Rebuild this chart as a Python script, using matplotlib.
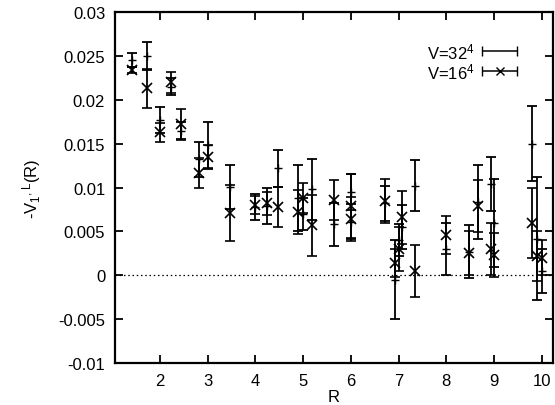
import matplotlib.pyplot as plt

plt.rcParams["font.family"] = ["Liberation Sans", "DejaVu Sans"]
plt.rcParams["mathtext.default"] = "regular"

# V=32^4 series
r_32 = [1.414, 1.732, 2.0, 2.236, 2.449, 2.828, 3.0, 3.464, 4.0, 4.243,
        4.472, 4.899, 5.0, 5.196, 5.657, 6.0, 6.0, 6.708, 6.928, 7.0,
        7.071, 7.348, 8.0, 8.485, 8.660, 8.944, 9.0, 9.798, 9.899, 10.0]
v_32 = [0.0245, 0.0250, 0.0177, 0.0215, 0.0165, 0.0132, 0.0148, 0.0101, 0.0078, 0.0079,
        0.0122, 0.0088, 0.0070, 0.0098, 0.0058, 0.0095, 0.0061, 0.0082, -0.0005, 0.0040,
        0.0055, 0.0102, 0.0030, 0.0027, 0.0084, 0.0104, 0.0060, 0.0150, 0.0042, 0.0005]
e_32 = [0.0008, 0.0016, 0.0015, 0.0010, 0.0010, 0.0020, 0.0027, 0.0025, 0.0015, 0.0021,
        0.0021, 0.0038, 0.0018, 0.0035, 0.0025, 0.0020, 0.0020, 0.0020, 0.0045, 0.0018,
        0.0025, 0.0029, 0.0030, 0.0030, 0.0042, 0.0031, 0.0050, 0.0043, 0.0070, 0.0025]

# V=16^4 series
r_16 = [1.414, 1.732, 2.0, 2.236, 2.449, 2.828, 3.0, 3.464, 4.0, 4.243,
        4.472, 4.899, 5.0, 5.196, 5.657, 6.0, 6.0, 6.708, 6.928, 7.0,
        7.071, 7.348, 8.0, 8.485, 8.660, 8.944, 9.0, 9.798, 9.899, 10.0]
v_16 = [0.0234, 0.0213, 0.0163, 0.0220, 0.0172, 0.0117, 0.0135, 0.0071, 0.0080, 0.0082,
        0.0078, 0.0072, 0.0088, 0.0057, 0.0086, 0.0079, 0.0064, 0.0085, 0.0014, 0.0030,
        0.0066, 0.0005, 0.0046, 0.0025, 0.0079, 0.0030, 0.0023, 0.0060, 0.0022, 0.0020]
e_16 = [0.0003, 0.0022, 0.0011, 0.0012, 0.0018, 0.0017, 0.0013, 0.0032, 0.0010, 0.0013,
        0.0023, 0.0025, 0.0017, 0.0035, 0.0023, 0.0036, 0.0025, 0.0025, 0.0016, 0.0025,
        0.0030, 0.0030, 0.0022, 0.0025, 0.0030, 0.0030, 0.0025, 0.0040, 0.0028, 0.0020]

x_ticks = [2, 3, 4, 5, 6, 7, 8, 9, 10]
y_ticks = [-0.01, -0.005, 0, 0.005, 0.01, 0.015, 0.02, 0.025, 0.03]
y_labels = ["-0.01", "-0.005", "0", "0.005", "0.01", "0.015", "0.02", "0.025", "0.03"]


def main():
    fig = plt.figure(figsize=(5.55, 4.06), dpi=100)
    ax = fig.add_axes([0.207, 0.103, 0.789, 0.865])

    ax.axhline(0, color="black", linestyle=(0, (1.2, 2.2)), linewidth=0.9)

    ax.errorbar(r_32, v_32, yerr=e_32, fmt="+", color="black",
                markersize=6, capsize=3.5, elinewidth=1.3, capthick=1.3)
    ax.errorbar(r_16, v_16, yerr=e_16, fmt="x", color="black",
                markersize=6.5, capsize=3.5, elinewidth=1.3, capthick=1.3,
                markeredgewidth=1.2)

    # gnuplot style key
    ax.text(0.822, 0.889, "V=32$^4$", transform=ax.transAxes,
            ha="right", va="center", fontsize=12)
    ax.text(0.822, 0.832, "V=16$^4$", transform=ax.transAxes,
            ha="right", va="center", fontsize=12)
    ax.errorbar([0.879], [0.889], xerr=[0.04], fmt="none", color="black",
                capsize=3.5, elinewidth=1.1, transform=ax.transAxes)
    ax.errorbar([0.879], [0.832], xerr=[0.04], fmt="x", color="black",
                markersize=5.5, capsize=3.5, elinewidth=1.1, transform=ax.transAxes)

    ax.set_xlim(1.06, 10.23)
    ax.set_ylim(-0.01, 0.03)
    ax.set_xticks(x_ticks)
    ax.set_yticks(y_ticks)
    ax.set_yticklabels(y_labels)
    ax.tick_params(direction="in", length=6, width=1.3, top=True, right=True,
                   labelsize=12, pad=7)

    for spine in ax.spines.values():
        spine.set_linewidth(1.6)

    ax.set_xlabel("R", fontsize=12, labelpad=1)
    ax.set_ylabel("-V$_1$$^{,L}$(R)", fontsize=12, labelpad=11)

    plt.savefig("out.png", dpi=100)
    plt.close(fig)


if __name__ == "__main__":
    main()
